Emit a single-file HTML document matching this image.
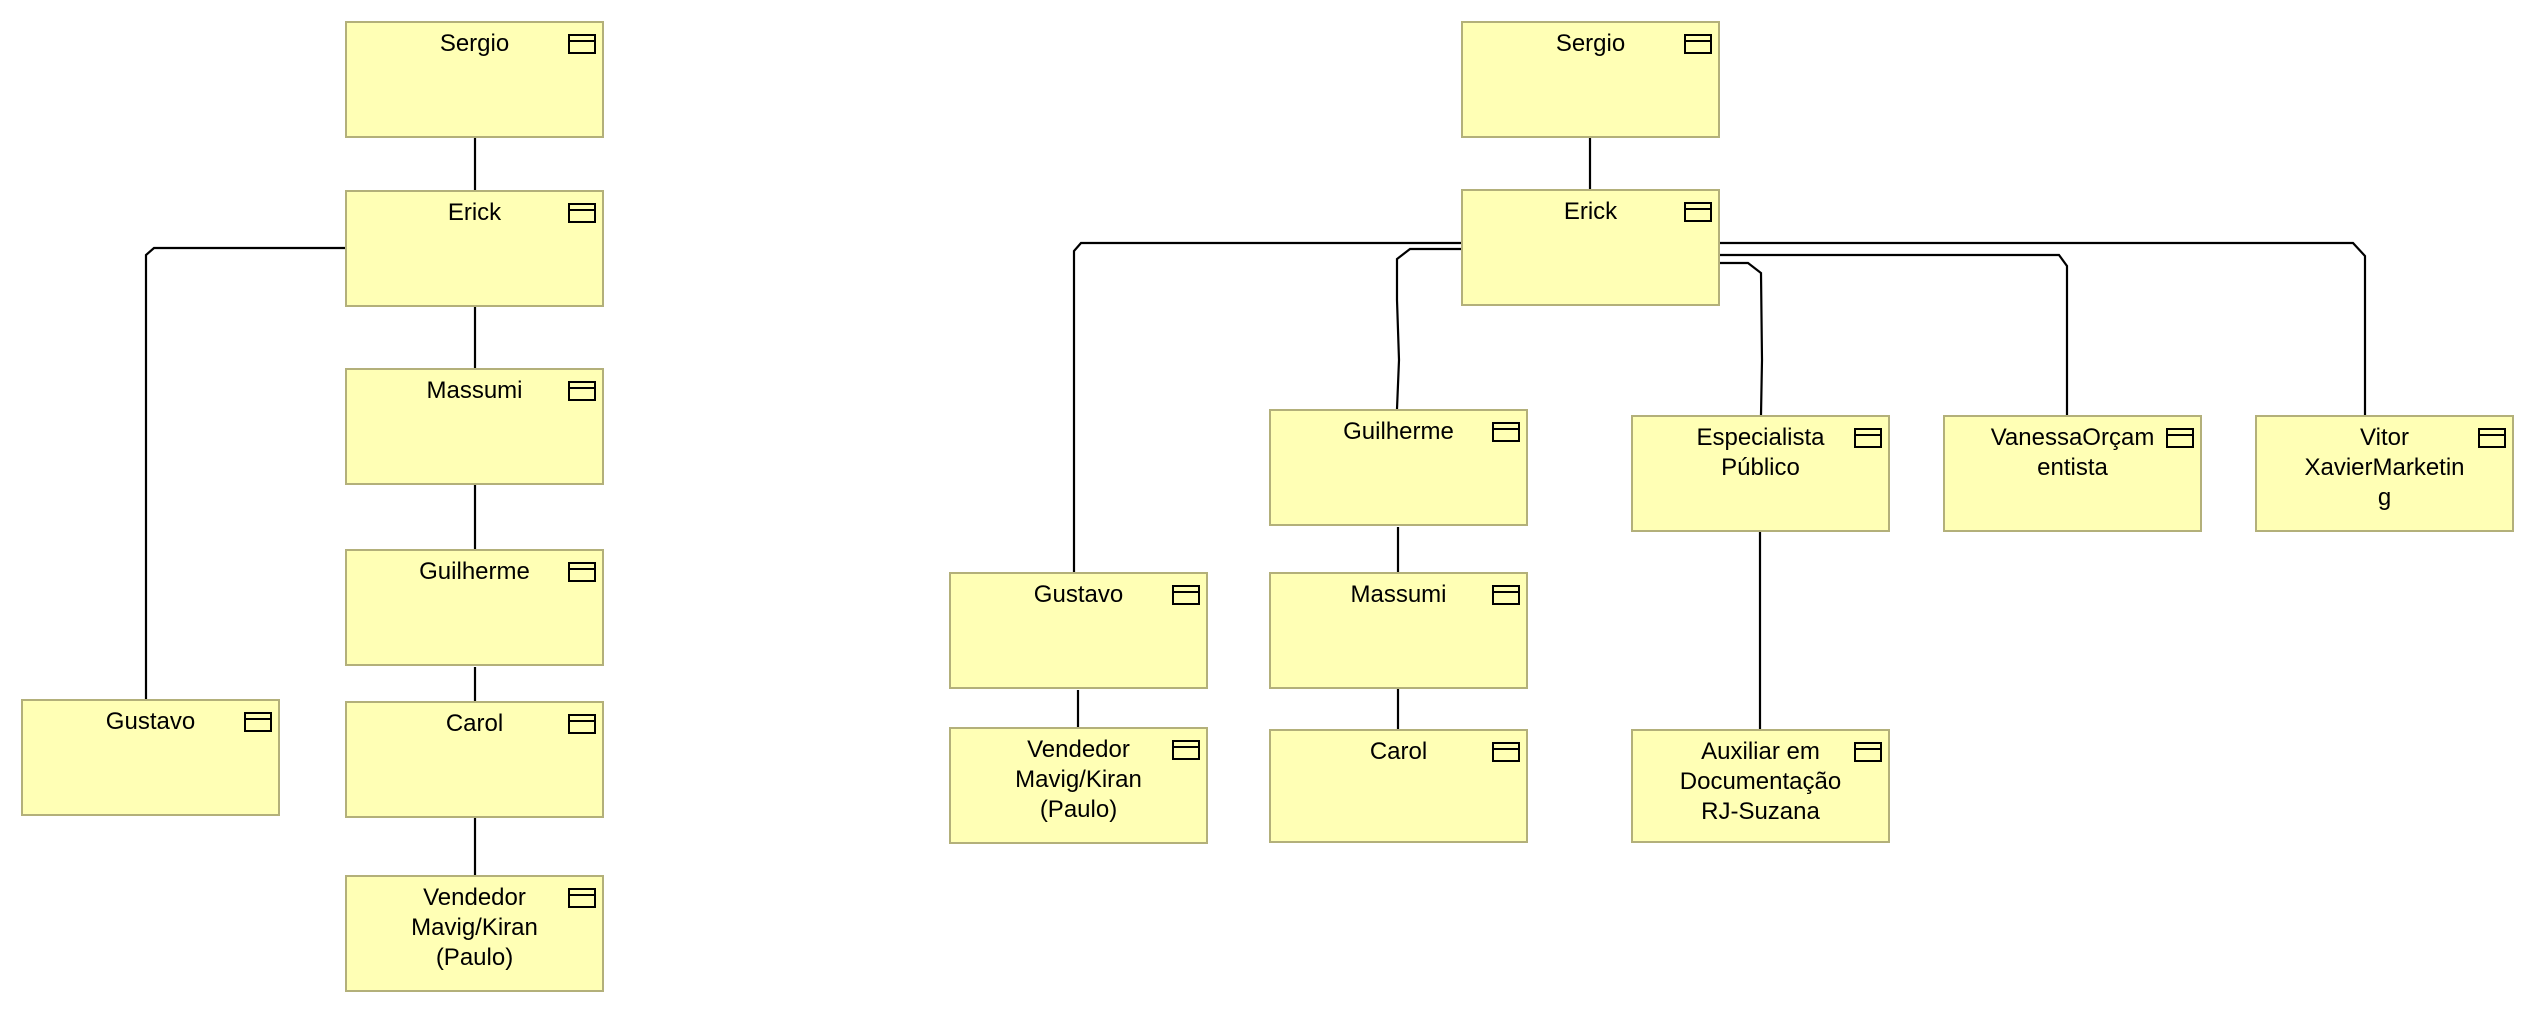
<!DOCTYPE html>
<html><head><meta charset="utf-8"><style>
html,body{margin:0;padding:0;background:#fff;}
body{width:2534px;height:1014px;position:relative;overflow:hidden;font-family:"Liberation Sans","DejaVu Sans",sans-serif;}
.b{position:absolute;box-sizing:border-box;background:#ffffb5;border:2px solid #b3b07a;width:259px;height:117px;}
.t{position:absolute;left:0;right:0;top:6px;text-align:center;font-size:24px;line-height:30px;color:#000;}
.i{position:absolute;right:6px;top:11px;width:28px;height:20px;box-sizing:border-box;border:2px solid #000;}
.i:after{content:"";position:absolute;left:0;right:0;top:4px;border-top:2px solid #000;}
svg{position:absolute;left:0;top:0;}
</style></head><body>
<svg width="2534" height="1014">
<g stroke="#000" stroke-width="2.2" fill="none">
<!-- left -->
<line x1="475" y1="138" x2="475" y2="190"/>
<line x1="475" y1="307" x2="475" y2="368"/>
<line x1="475" y1="484" x2="475" y2="549"/>
<line x1="475" y1="667" x2="475" y2="702"/>
<line x1="475" y1="817" x2="475" y2="875"/>
<path d="M345 248 H154 L146 255 V699"/>
<!-- right -->
<line x1="1590" y1="138" x2="1590" y2="190"/>
<path d="M1461 243 H1081 L1074 251 V573"/>
<path d="M1461 249 H1410 L1397 259 V300 L1399 360 L1397 409"/>
<path d="M1719 243 H2353 L2365 256 V415"/>
<path d="M1719 255 H2059 L2067 266 V415"/>
<path d="M1719 263 H1748 L1761 273 L1762 360 L1761 415"/>
<line x1="1398" y1="527" x2="1398" y2="573"/>
<line x1="1398" y1="688" x2="1398" y2="730"/>
<line x1="1078" y1="690" x2="1078" y2="727"/>
<line x1="1760" y1="532" x2="1760" y2="730"/>
</g></svg>

<div class="b" style="left:345px;top:21px"><div class="t">Sergio</div><div class="i"></div></div>
<div class="b" style="left:345px;top:190px"><div class="t">Erick</div><div class="i"></div></div>
<div class="b" style="left:345px;top:368px"><div class="t">Massumi</div><div class="i"></div></div>
<div class="b" style="left:345px;top:549px"><div class="t">Guilherme</div><div class="i"></div></div>
<div class="b" style="left:345px;top:701px"><div class="t">Carol</div><div class="i"></div></div>
<div class="b" style="left:345px;top:875px"><div class="t">Vendedor<br>Mavig/Kiran<br>(Paulo)</div><div class="i"></div></div>
<div class="b" style="left:21px;top:699px"><div class="t">Gustavo</div><div class="i"></div></div>

<div class="b" style="left:1461px;top:21px"><div class="t">Sergio</div><div class="i"></div></div>
<div class="b" style="left:1461px;top:189px"><div class="t">Erick</div><div class="i"></div></div>
<div class="b" style="left:1269px;top:409px"><div class="t">Guilherme</div><div class="i"></div></div>
<div class="b" style="left:1269px;top:572px"><div class="t">Massumi</div><div class="i"></div></div>
<div class="b" style="left:1269px;top:729px;height:114px"><div class="t">Carol</div><div class="i"></div></div>
<div class="b" style="left:949px;top:572px"><div class="t">Gustavo</div><div class="i"></div></div>
<div class="b" style="left:949px;top:727px"><div class="t">Vendedor<br>Mavig/Kiran<br>(Paulo)</div><div class="i"></div></div>
<div class="b" style="left:1631px;top:415px"><div class="t">Especialista<br>Público</div><div class="i"></div></div>
<div class="b" style="left:1631px;top:729px;height:114px"><div class="t">Auxiliar em<br>Documentação<br>RJ-Suzana</div><div class="i"></div></div>
<div class="b" style="left:1943px;top:415px"><div class="t">VanessaOrçam<br>entista</div><div class="i"></div></div>
<div class="b" style="left:2255px;top:415px"><div class="t">Vitor<br>XavierMarketin<br>g</div><div class="i"></div></div>
</body></html>
